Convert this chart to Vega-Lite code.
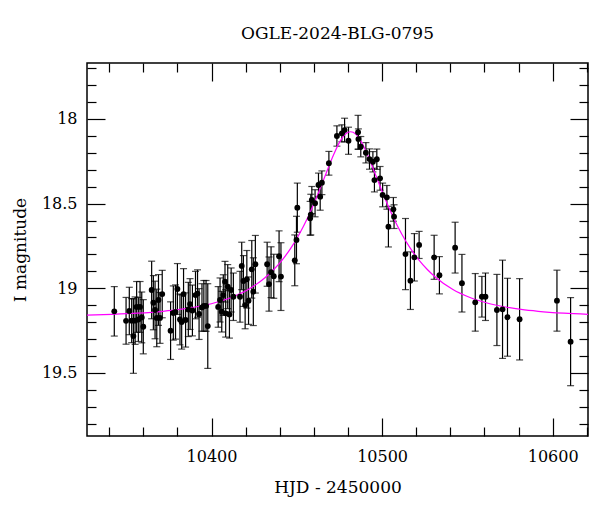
{
  "$schema": "https://vega.github.io/schema/vega-lite/v6.json",
  "width": 501,
  "height": 373,
  "autosize": {"type": "none"},
  "padding": {"left": 87, "top": 63, "right": 12, "bottom": 76},
  "background": "white",
  "title": {"text": "OGLE-2024-BLG-0795", "font": "DejaVu Serif", "fontSize": 17, "fontWeight": "normal", "color": "black", "anchor": "middle", "offset": 17},
  "config": {
    "view": {"stroke": "black", "strokeWidth": 1.5},
    "axis": {"domain": false, "grid": false, "labelFont": "DejaVu Serif", "labelFontSize": 16, "labelColor": "black", "titleFont": "DejaVu Serif", "titleFontSize": 17, "titleFontWeight": "normal", "titleColor": "black", "tickColor": "black", "tickWidth": 1.2, "labelOverlap": false, "labelFlush": false}
  },
  "datasets": {
    "obs": [
      {"t": 10343.0, "m": 19.136, "e": 0.146}, {"t": 10349.9, "m": 19.192, "e": 0.138}, {"t": 10351.8, "m": 19.134, "e": 0.14},
      {"t": 10353.2, "m": 19.191, "e": 0.13}, {"t": 10354.2, "m": 19.282, "e": 0.22}, {"t": 10355.2, "m": 19.191, "e": 0.14},
      {"t": 10356.1, "m": 19.110, "e": 0.15}, {"t": 10357.1, "m": 19.184, "e": 0.13}, {"t": 10358.1, "m": 19.110, "e": 0.15},
      {"t": 10359.1, "m": 19.172, "e": 0.15}, {"t": 10360.0, "m": 19.227, "e": 0.16}, {"t": 10364.9, "m": 19.010, "e": 0.17},
      {"t": 10365.9, "m": 19.085, "e": 0.16}, {"t": 10366.9, "m": 19.128, "e": 0.17}, {"t": 10367.9, "m": 19.175, "e": 0.17},
      {"t": 10368.9, "m": 19.069, "e": 0.15}, {"t": 10369.8, "m": 19.175, "e": 0.15}, {"t": 10371.1, "m": 19.034, "e": 0.14},
      {"t": 10376.0, "m": 19.250, "e": 0.17}, {"t": 10377.6, "m": 19.146, "e": 0.16}, {"t": 10378.9, "m": 19.140, "e": 0.16},
      {"t": 10380.0, "m": 19.004, "e": 0.15}, {"t": 10381.5, "m": 19.184, "e": 0.15}, {"t": 10382.5, "m": 19.199, "e": 0.16},
      {"t": 10383.6, "m": 19.034, "e": 0.15}, {"t": 10384.8, "m": 19.187, "e": 0.16}, {"t": 10386.4, "m": 19.125, "e": 0.16},
      {"t": 10387.4, "m": 19.093, "e": 0.15}, {"t": 10388.8, "m": 19.131, "e": 0.15}, {"t": 10390.6, "m": 19.040, "e": 0.14},
      {"t": 10391.8, "m": 19.031, "e": 0.14}, {"t": 10392.7, "m": 19.152, "e": 0.15}, {"t": 10394.4, "m": 19.113, "e": 0.14},
      {"t": 10395.5, "m": 19.104, "e": 0.15}, {"t": 10396.8, "m": 19.104, "e": 0.15}, {"t": 10397.8, "m": 19.223, "e": 0.25},
      {"t": 10403.9, "m": 19.110, "e": 0.12}, {"t": 10405.0, "m": 19.069, "e": 0.13}, {"t": 10406.0, "m": 19.138, "e": 0.12},
      {"t": 10406.9, "m": 19.040, "e": 0.12}, {"t": 10407.9, "m": 18.961, "e": 0.12}, {"t": 10408.3, "m": 19.148, "e": 0.14},
      {"t": 10409.5, "m": 18.990, "e": 0.13}, {"t": 10410.5, "m": 19.154, "e": 0.14}, {"t": 10411.5, "m": 19.010, "e": 0.13},
      {"t": 10412.8, "m": 19.050, "e": 0.14}, {"t": 10416.7, "m": 19.050, "e": 0.15}, {"t": 10417.7, "m": 18.868, "e": 0.14},
      {"t": 10418.7, "m": 18.957, "e": 0.15}, {"t": 10419.7, "m": 19.099, "e": 0.14}, {"t": 10420.7, "m": 18.947, "e": 0.17},
      {"t": 10421.7, "m": 19.073, "e": 0.14}, {"t": 10423.6, "m": 18.888, "e": 0.17}, {"t": 10424.5, "m": 19.020, "e": 0.2},
      {"t": 10425.7, "m": 18.858, "e": 0.17}, {"t": 10432.6, "m": 18.858, "e": 0.13}, {"t": 10433.7, "m": 18.975, "e": 0.16},
      {"t": 10434.9, "m": 18.905, "e": 0.15}, {"t": 10436.5, "m": 18.929, "e": 0.13}, {"t": 10439.6, "m": 18.811, "e": 0.15},
      {"t": 10440.7, "m": 18.931, "e": 0.2}, {"t": 10448.8, "m": 18.835, "e": 0.15}, {"t": 10449.8, "m": 18.715, "e": 0.14},
      {"t": 10450.3, "m": 18.524, "e": 0.145}, {"t": 10457.8, "m": 18.587, "e": 0.10}, {"t": 10458.2, "m": 18.565, "e": 0.12},
      {"t": 10458.8, "m": 18.479, "e": 0.08}, {"t": 10460.7, "m": 18.498, "e": 0.08}, {"t": 10462.7, "m": 18.390, "e": 0.07},
      {"t": 10463.7, "m": 18.459, "e": 0.08}, {"t": 10464.7, "m": 18.377, "e": 0.07}, {"t": 10468.8, "m": 18.262, "e": 0.07},
      {"t": 10473.5, "m": 18.101, "e": 0.06}, {"t": 10476.4, "m": 18.085, "e": 0.05}, {"t": 10478.0, "m": 18.066, "e": 0.07},
      {"t": 10480.3, "m": 18.129, "e": 0.08}, {"t": 10485.9, "m": 18.079, "e": 0.10}, {"t": 10486.1, "m": 18.119, "e": 0.06},
      {"t": 10487.5, "m": 18.164, "e": 0.06}, {"t": 10490.5, "m": 18.200, "e": 0.06}, {"t": 10492.6, "m": 18.237, "e": 0.06},
      {"t": 10494.6, "m": 18.253, "e": 0.06}, {"t": 10495.5, "m": 18.361, "e": 0.07}, {"t": 10496.9, "m": 18.238, "e": 0.06},
      {"t": 10498.8, "m": 18.351, "e": 0.07}, {"t": 10500.3, "m": 18.449, "e": 0.07}, {"t": 10502.8, "m": 18.463, "e": 0.07},
      {"t": 10503.7, "m": 18.636, "e": 0.12}, {"t": 10506.6, "m": 18.534, "e": 0.07}, {"t": 10507.0, "m": 18.577, "e": 0.07},
      {"t": 10513.7, "m": 18.798, "e": 0.21}, {"t": 10516.6, "m": 18.955, "e": 0.17}, {"t": 10518.9, "m": 18.817, "e": 0.14},
      {"t": 10521.7, "m": 18.744, "e": 0.08}, {"t": 10530.5, "m": 18.817, "e": 0.13}, {"t": 10533.6, "m": 18.923, "e": 0.11},
      {"t": 10542.8, "m": 18.760, "e": 0.15}, {"t": 10546.8, "m": 18.970, "e": 0.17}, {"t": 10554.6, "m": 19.083, "e": 0.17},
      {"t": 10558.5, "m": 19.050, "e": 0.12}, {"t": 10560.6, "m": 19.050, "e": 0.14}, {"t": 10567.3, "m": 19.128, "e": 0.21},
      {"t": 10570.6, "m": 19.124, "e": 0.29}, {"t": 10573.5, "m": 19.171, "e": 0.23}, {"t": 10580.6, "m": 19.183, "e": 0.24},
      {"t": 10602.5, "m": 19.073, "e": 0.18}, {"t": 10610.5, "m": 19.315, "e": 0.26}
    ],
    "model": [
      {"t": 10327.0, "m": 19.159}, {"t": 10341.5, "m": 19.154}, {"t": 10356.5, "m": 19.147}, {"t": 10371.5, "m": 19.136},
      {"t": 10381.5, "m": 19.125}, {"t": 10391.5, "m": 19.109}, {"t": 10406.5, "m": 19.072}, {"t": 10411.5, "m": 19.054},
      {"t": 10421.5, "m": 19.007}, {"t": 10431.5, "m": 18.936}, {"t": 10436.5, "m": 18.889}, {"t": 10441.5, "m": 18.832},
      {"t": 10446.5, "m": 18.763}, {"t": 10451.5, "m": 18.679}, {"t": 10456.5, "m": 18.580}, {"t": 10461.5, "m": 18.465},
      {"t": 10466.5, "m": 18.339}, {"t": 10471.5, "m": 18.213}, {"t": 10475.5, "m": 18.130}, {"t": 10478.5, "m": 18.089},
      {"t": 10481.5, "m": 18.076}, {"t": 10484.5, "m": 18.089}, {"t": 10487.5, "m": 18.130}, {"t": 10491.5, "m": 18.213},
      {"t": 10496.5, "m": 18.339}, {"t": 10501.5, "m": 18.465}, {"t": 10506.5, "m": 18.580}, {"t": 10511.5, "m": 18.679},
      {"t": 10516.5, "m": 18.763}, {"t": 10521.5, "m": 18.832}, {"t": 10526.5, "m": 18.889}, {"t": 10531.5, "m": 18.936},
      {"t": 10541.5, "m": 19.007}, {"t": 10551.5, "m": 19.054}, {"t": 10556.5, "m": 19.072}, {"t": 10571.5, "m": 19.109},
      {"t": 10581.5, "m": 19.125}, {"t": 10591.5, "m": 19.136}, {"t": 10606.5, "m": 19.147}, {"t": 10621.5, "m": 19.154}
    ]
  },
  "layer": [
    {
      "data": {"name": "obs"},
      "mark": {"type": "errorbar", "ticks": true, "size": 7, "thickness": 1.2, "color": "black"},
      "encoding": {
        "x": {"field": "t", "type": "quantitative", "scale": {"domain": [10327, 10620.7], "nice": false, "zero": false},
          "axis": {"orient": "bottom", "values": [10340, 10360, 10380, 10400, 10420, 10440, 10460, 10480, 10500, 10520, 10540, 10560, 10580, 10600, 10620],
            "tickSize": {"condition": {"test": "datum.value % 100 === 0", "value": -18}, "value": -9},
            "labelExpr": "datum.value % 100 === 0 ? format(datum.value, 'd') : ''",
            "labelPadding": 30, "title": "HJD - 2450000", "titlePadding": 6}},
        "y": {"field": "m", "type": "quantitative", "scale": {"domain": [17.67, 19.872], "reverse": true, "nice": false, "zero": false},
          "axis": {"orient": "left", "values": [17.7, 17.8, 17.9, 18, 18.1, 18.2, 18.3, 18.4, 18.5, 18.6, 18.7, 18.8, 18.9, 19, 19.1, 19.2, 19.3, 19.4, 19.5, 19.6, 19.7, 19.8],
            "tickSize": {"condition": {"test": "abs(datum.value*2 - round(datum.value*2)) < 0.01", "value": -18}, "value": -9},
            "labelExpr": "abs(datum.value*2 - round(datum.value*2)) < 0.01 ? format(datum.value, '~g') : ''",
            "labelPadding": 28, "title": "I magnitude", "titlePadding": 12}},
        "yError": {"field": "e"}
      }
    },
    {
      "data": {"name": "model"},
      "mark": {"type": "line", "color": "#ff00ff", "strokeWidth": 1.2, "interpolate": "monotone", "clip": true},
      "encoding": {
        "x": {"field": "t", "type": "quantitative",
          "axis": {"orient": "top", "values": [10340, 10360, 10380, 10400, 10420, 10440, 10460, 10480, 10500, 10520, 10540, 10560, 10580, 10600, 10620],
            "tickSize": {"condition": {"test": "datum.value % 100 === 0", "value": -18}, "value": -9},
            "labels": false, "title": null}},
        "y": {"field": "m", "type": "quantitative",
          "axis": {"orient": "right", "values": [17.7, 17.8, 17.9, 18, 18.1, 18.2, 18.3, 18.4, 18.5, 18.6, 18.7, 18.8, 18.9, 19, 19.1, 19.2, 19.3, 19.4, 19.5, 19.6, 19.7, 19.8],
            "tickSize": {"condition": {"test": "abs(datum.value*2 - round(datum.value*2)) < 0.01", "value": -18}, "value": -9},
            "labels": false, "title": null}}
      }
    },
    {
      "data": {"name": "obs"},
      "mark": {"type": "circle", "size": 34, "color": "black", "opacity": 1},
      "encoding": {
        "x": {"field": "t", "type": "quantitative", "axis": null},
        "y": {"field": "m", "type": "quantitative", "axis": null}
      }
    }
  ],
  "resolve": {"axis": {"x": "independent", "y": "independent"}}
}
